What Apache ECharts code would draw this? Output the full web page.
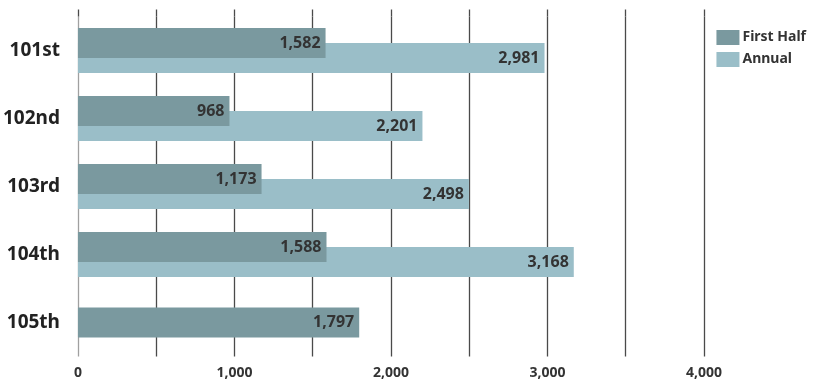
<!DOCTYPE html>
<html>
<head>
<meta charset="utf-8">
<script src="https://cdn.jsdelivr.net/npm/echarts@6/dist/echarts.min.js"></script>
<style>
  html, body { margin: 0; padding: 0; background: #fff; }
  #chart { width: 813px; height: 382px; }
</style>
</head>
<body>
<div id="chart"></div>
<script>
// Sessions, top to bottom
const categories = ['101st', '102nd', '103rd', '104th', '105th'];
// First-half and full-year totals (105th has no annual figure yet)
const firstHalf = [1582, 968, 1173, 1588, 1797];
const annual = [2981, 2201, 2498, 3168, null];
// Value-axis ticks
const xTicks = [0, 500, 1000, 1500, 2000, 2500, 3000, 3500, 4000];

const DARK = '#7a999f';
const LIGHT = '#9abec8';
const FONT = '"Noto Sans", "Open Sans", sans-serif';

// Rows that have both figures are drawn as an overlapping pair;
// a row with only the first-half figure gets a single centred bar.
const pairedHalf = firstHalf.map((v, i) => (annual[i] == null ? null : v));
const soloHalf = firstHalf.map((v, i) => (annual[i] == null ? v : null));

const fmt = (v) => v.toLocaleString('en-US');

const valueLabel = {
  show: true,
  position: 'insideRight',
  distance: 5,
  color: '#333',
  fontFamily: FONT,
  fontWeight: 'bold',
  fontSize: 16,
  formatter: (p) => fmt(p.value)
};

const gridColors = xTicks.map((t) => (t === 0 ? '#a0a0a0' : '#4a4a4a'));

const chart = echarts.init(document.getElementById('chart'), null, { renderer: 'canvas' });

chart.setOption({
  animation: false,
  backgroundColor: '#fff',
  grid: { left: 76, right: 109, top: 16.5, bottom: 25.5, containLabel: false },
  legend: {
    orient: 'vertical',
    right: 2,
    top: 25,
    itemWidth: 23,
    itemHeight: 15,
    itemGap: 7,
    icon: 'rect',
    data: ['First Half', 'Annual'],
    textStyle: { color: '#333', fontFamily: FONT, fontWeight: 'bold', fontSize: 14, padding: [0, 0, 0, -2] }
  },
  xAxis: [
    {
      type: 'value',
      min: xTicks[0],
      max: xTicks[xTicks.length - 1],
      interval: 500,
      axisLine: { show: false },
      axisTick: { show: false },
      splitLine: { show: true, lineStyle: { color: gridColors, width: 1.3 } },
      axisLabel: {
        margin: 10,
        color: '#333',
        fontFamily: FONT,
        fontWeight: 'bold',
        fontSize: 14,
        formatter: (v) => (v % 1000 === 0 ? fmt(v) : '')
      }
    },
    {
      // short extension of the grid lines above the plot area
      type: 'value',
      position: 'top',
      min: xTicks[0],
      max: xTicks[xTicks.length - 1],
      interval: 500,
      axisLine: { show: false },
      axisTick: { show: true, length: 7, lineStyle: { color: '#4a4a4a', width: 1.3 } },
      axisLabel: { show: false },
      splitLine: { show: false }
    }
  ],
  yAxis: [
    {
      type: 'category',
      data: categories,
      inverse: true,
      axisLine: { show: false },
      axisTick: { show: false },
      axisLabel: {
        margin: 18,
        color: '#222',
        fontFamily: FONT,
        fontWeight: 'bold',
        fontSize: 19
      }
    },
    {
      type: 'category',
      data: categories,
      inverse: true,
      show: false
    }
  ],
  series: [
    {
      name: 'First Half',
      type: 'bar',
      data: pairedHalf,
      barWidth: 30,
      barGap: '-50%',
      z: 3,
      itemStyle: { color: DARK },
      label: valueLabel
    },
    {
      name: 'Annual',
      type: 'bar',
      data: annual,
      barWidth: 30,
      barGap: '-50%',
      z: 2,
      itemStyle: { color: LIGHT },
      label: valueLabel
    },
    {
      name: 'First Half',
      type: 'bar',
      yAxisIndex: 1,
      data: soloHalf,
      barWidth: 30,
      z: 3,
      itemStyle: { color: DARK },
      label: valueLabel
    }
  ]
});
</script>
</body>
</html>
